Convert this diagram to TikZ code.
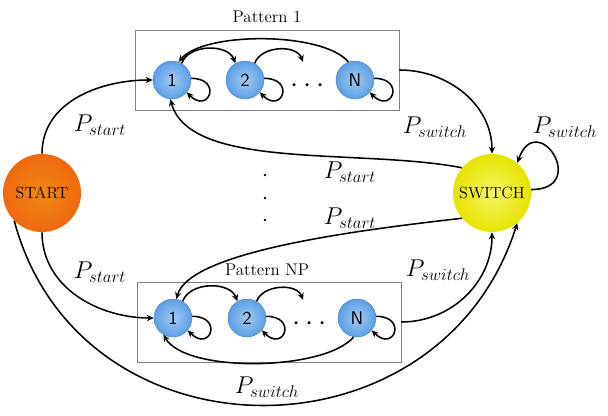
\documentclass[tikz,border=0pt]{standalone}
\usepackage{xcolor}
\usepackage{amsmath}
\usepackage{tikz}
\usetikzlibrary{arrows.meta}
\definecolor{startorange}{HTML}{EE7412}
\definecolor{switchyellow}{HTML}{F2EE00}
\definecolor{stateblue}{HTML}{5A9FE6}
\tikzset{
  state/.style = {circle, inner color=stateblue!55!white, outer color=stateblue,
    draw=stateblue!80!black, line width=0.3pt, minimum size=0.95cm, inner sep=0pt,
    font=\fontsize{13}{15}\sffamily},
  bigstate/.style = {circle, minimum size=1.95cm, inner sep=0pt,
    font=\fontsize{11.5}{13}\selectfont},
  patternbox/.style = {draw=gray, line width=0.6pt, minimum width=6.6cm, minimum height=2cm},
  prob/.style = {font=\fontsize{17}{20}\selectfont},
  trans/.style = {-{Stealth[length=5pt,width=4.5pt]}, line width=1.1pt},
  selfloop/.style = {trans, out=0, in=-45, looseness=5.5}
}

\begin{document}
\begin{tikzpicture}[x=0.025cm, y=0.025cm]
  \useasboundingbox (0,0) rectangle (608,416);

  \node[patternbox] (box1) at (267,346) {};
  \node[patternbox] (box2) at (269,94) {};
  \node[font=\large] (lab1) at (267,399) {Pattern 1};
  \node[font=\large] (lab2) at (267,146) {Pattern NP};

  \node[bigstate, inner color=startorange!85!yellow, outer color=startorange!90!red] (start) at (42,223) {START};
  \node[bigstate, inner color=switchyellow!60!white, outer color=switchyellow!90!olive] (switch) at (492,223) {SWITCH};

  \node[state] (a1) at (172,336) {1};
  \node[state] (a2) at (245,336) {2};
  \node[state] (aN) at (355,336) {N};
  \node[font=\huge] (adots) at (310,330) {$\cdots$};
  \coordinate (a2end) at (303,354);

  \node[state] (b1) at (173,98) {1};
  \node[state] (b2) at (247,98) {2};
  \node[state] (bN) at (357,98) {N};
  \node[font=\huge] (bdots) at (312,92) {$\cdots$};
  \coordinate (b2end) at (303,116);

  \foreach \y in {241,218,196}
    \fill (265,\y) circle (1.3);

  \draw[trans] (start.north) to[out=90,in=180] (a1.west);
  \draw[trans] (start.south) to[out=-90,in=180] (b1.west);
  \draw[trans] (start.225) .. controls (80,-50) and (440,-50) .. (switch.-50);
  \draw[trans] (box1.east) to[out=0,in=90] (switch.north);
  \draw[trans] (box2.east) to[out=0,in=-90] (switch.south);
  \draw[trans] (switch.140) .. controls (360,268) and (190,245) .. (a1.-95);
  \draw[trans] (switch.220) .. controls (360,186) and (190,165) .. (b1.80);
  \draw[trans] (switch.5) to[out=0,in=70,looseness=5] (switch.50);

  \draw[trans] (a1.60) to[out=70,in=110] (a2.120);
  \draw[trans] (a2.60) to[out=70,in=110] (a2end);
  \draw[trans] (aN.110) to[out=130,in=50,looseness=0.6] (a1.70);
  \draw[selfloop] (a1.5) to (a1.-40);
  \draw[selfloop] (a2.5) to (a2.-40);
  \draw[selfloop] (aN.5) to (aN.-40);

  \draw[trans] (b1.60) to[out=70,in=110] (b2.120);
  \draw[trans] (b2.60) to[out=70,in=110] (b2end);
  \draw[trans] (bN.-100) to[out=-130,in=-60,looseness=0.6] (b1.-120);
  \draw[selfloop] (b1.5) to (b1.-40);
  \draw[selfloop] (b2.5) to (b2.-40);
  \draw[selfloop] (bN.5) to (bN.-40);

  \node[prob] (p1) at (100,291) {$P_{start}$};
  \node[prob] (p2) at (100,144) {$P_{start}$};
  \node[prob] (p3) at (435,289) {$P_{switch}$};
  \node[prob] (p4) at (565,289) {$P_{switch}$};
  \node[prob] (p5) at (438,146) {$P_{switch}$};
  \node[prob] (p6) at (350,244) {$P_{start}$};
  \node[prob] (p7) at (350,198) {$P_{start}$};
  \node[prob] (p8) at (267,29) {$P_{switch}$};
\end{tikzpicture}
\end{document}
